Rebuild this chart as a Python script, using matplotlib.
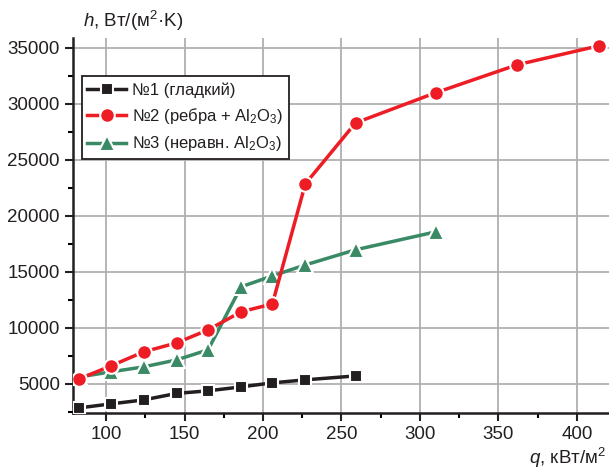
import matplotlib
matplotlib.use('Agg')
import matplotlib.pyplot as plt
from matplotlib.ticker import MultipleLocator

plt.rcParams['font.family'] = ['Liberation Sans', 'DejaVu Sans']
plt.rcParams['mathtext.fontset'] = 'custom'
plt.rcParams['mathtext.rm'] = 'Liberation Sans'
plt.rcParams['mathtext.it'] = 'Liberation Sans:italic'

# data
q1 = [83, 103, 124, 145, 165, 186, 206, 227, 259]
h1 = [2860, 3210, 3570, 4150, 4380, 4730, 5090, 5360, 5710]

q2 = [83, 103, 124, 145, 165, 186, 206, 227, 259, 310, 362, 414]
h2 = [5450, 6600, 7860, 8660, 9820, 11430, 12140, 22860, 28300, 30990, 33490, 35180]

q3 = [83, 103, 124, 145, 165, 186, 206, 227, 259, 310]
h3 = [5620, 6070, 6520, 7140, 8040, 13660, 14640, 15620, 16970, 18570]

labels = ['№1 (гладкий)', '№2 (ребра + Al$_2$O$_3$)', '№3 (неравн. Al$_2$O$_3$)']

fig = plt.figure(figsize=(6.09, 4.72), dpi=100)
ax = fig.add_axes([0.120, 0.125, 0.880, 0.795])

ax.plot(q1, h1, '-s', color='#231f20', lw=2.5, ms=8.5, mec='white', mew=1.5, label=labels[0], zorder=3)
ax.plot(q2, h2, '-o', color='#ee1c25', lw=2.5, ms=10.5, mec='white', mew=1.5, label=labels[1], zorder=4)
ax.plot(q3, h3, '-^', color='#3a8a66', lw=2.5, ms=11, mec='white', mew=1.5, label=labels[2], zorder=3)

ax.set_xlim(79, 420.5)
ax.set_ylim(2400, 35900)
ax.xaxis.set_major_locator(MultipleLocator(50))
ax.xaxis.set_minor_locator(MultipleLocator(25))
ax.yaxis.set_major_locator(MultipleLocator(5000))
ax.yaxis.set_minor_locator(MultipleLocator(2500))
ax.grid(True, which='major', color='#b0b0b0', lw=1.3)
ax.set_axisbelow(True)

for s in ['top', 'right']:
    ax.spines[s].set_visible(False)
for s in ['left', 'bottom']:
    ax.spines[s].set_linewidth(1.8)
    ax.spines[s].set_color('#231f20')

ax.tick_params(which='major', direction='out', length=6, width=1.5, labelsize=13.5, colors='#231f20')
ax.tick_params(which='minor', direction='out', length=3.5, width=1.5)

leg = ax.legend(loc='upper left', bbox_to_anchor=(0.016, 0.897), frameon=True, fancybox=False,
                edgecolor='#231f20', framealpha=1, handlelength=2.3,
                prop={'size': 12},
                borderpad=0.35, labelspacing=0.5, handletextpad=0.35, borderaxespad=0)
leg.get_frame().set_linewidth(1.3)
for t in leg.get_texts():
    t.set_color('#231f20')

fig.text(0.137, 0.93, r'$h$, Вт/(м$^2$·K)', fontsize=13.5, ha='left', va='bottom', color='#231f20')
fig.text(0.995, 0.005, r'$q$, кВт/м$^2$', fontsize=13.5, ha='right', va='bottom', color='#231f20')

fig.savefig('out.png', dpi=100)
